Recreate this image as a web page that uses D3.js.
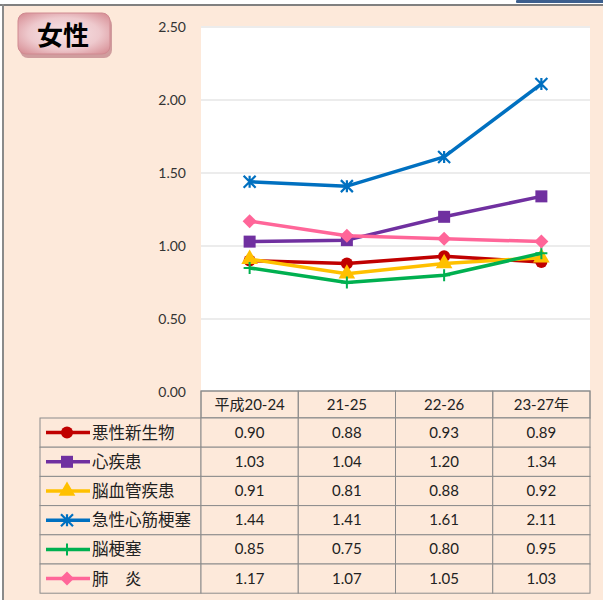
<!DOCTYPE html>
<html lang="ja">
<head>
<meta charset="UTF-8">
<title>女性</title>
<script src="https://d3js.org/d3.v7.min.js"></script>
<style>
    body { margin: 0; background: #fff; }
    svg text { font-family: Lato, "Noto Sans CJK JP", sans-serif; fill: #222; }
</style>
</head>
<body>
<div id="chart"></div>
<script>
    // data
    const categories = ["平成20-24", "21-25", "22-26", "23-27年"];
    const seriesNames = ["悪性新生物", "心疾患", "脳血管疾患", "急性心筋梗塞", "脳梗塞", "肺　炎"];
    const akusei = [0.90, 0.88, 0.93, 0.89];
    const shinshikkan = [1.03, 1.04, 1.20, 1.34];
    const noukekkan = [0.91, 0.81, 0.88, 0.92];
    const kyuusei = [1.44, 1.41, 1.61, 2.11];
    const noukousoku = [0.85, 0.75, 0.80, 0.95];
    const haien = [1.17, 1.07, 1.05, 1.03];
    const yTicks = [0, 0.5, 1.0, 1.5, 2.0, 2.5];

    const seriesValues = [akusei, shinshikkan, noukekkan, kyuusei, noukousoku, haien];
    const colors = ["#C00000", "#7030A0", "#FFC000", "#0070C0", "#00B050", "#FF6699"];
    const markers = ["circle", "square", "triangle", "star", "plus", "diamond"];

    const W = 603, H = 600;
    const svg = d3.select("#chart").append("svg")
        .attr("width", W).attr("height", H);

    // frame
    svg.append("rect").attr("x", 0).attr("y", 0).attr("width", W).attr("height", H).attr("fill", "#fff");
    svg.append("rect").attr("x", 2).attr("y", 5).attr("width", W).attr("height", H).attr("fill", "#FDE9DA");
    svg.append("rect").attr("x", 0).attr("y", 4).attr("width", W).attr("height", 2).attr("fill", "#808080");
    svg.append("rect").attr("x", 2).attr("y", 4).attr("width", 2).attr("height", H).attr("fill", "#8a8a8a");
    svg.append("rect").attr("x", 516).attr("y", 0).attr("width", 90).attr("height", 3).attr("rx", 1).attr("fill", "#3C5F8E");

    // title badge
    const defs = svg.append("defs");
    const grad = defs.append("radialGradient").attr("id", "badge")
        .attr("cx", "50%").attr("cy", "50%").attr("r", "70%");
    grad.append("stop").attr("offset", "0%").attr("stop-color", "#F8E6E8");
    grad.append("stop").attr("offset", "55%").attr("stop-color", "#EEC9CD");
    grad.append("stop").attr("offset", "100%").attr("stop-color", "#D4878E");
    svg.append("rect").attr("x", 20).attr("y", 17).attr("width", 92).attr("height", 41).attr("rx", 8)
        .attr("fill", "#C48A8F").attr("opacity", 0.8);
    svg.append("rect").attr("x", 18).attr("y", 13).attr("width", 92).attr("height", 41).attr("rx", 8)
        .attr("fill", "url(#badge)").attr("stroke", "#D08A91").attr("stroke-width", 1);
    svg.append("text").attr("x", 63).attr("y", 45).attr("text-anchor", "middle")
        .style("font-family", "'Noto Sans CJK JP'").style("font-weight", "bold")
        .style("font-size", "26px").style("fill", "#000").text("女性");

    // plot area
    const plotLeft = 201, plotRight = 590, plotTop = 27, plotBottom = 392;
    const x = d3.scaleBand().domain(categories).range([plotLeft, plotRight]);
    const y = d3.scaleLinear().domain([0, 2.5]).range([plotBottom, plotTop]);

    svg.append("rect").attr("x", plotLeft).attr("y", plotTop - 1)
        .attr("width", plotRight - plotLeft).attr("height", plotBottom - plotTop + 1)
        .attr("fill", "#fff");

    svg.append("g").selectAll("line").data(yTicks).join("line")
        .attr("x1", plotLeft).attr("x2", plotRight)
        .attr("y1", d => y(d)).attr("y2", d => y(d))
        .attr("stroke", "#D9D9D9").attr("stroke-width", 1);

    const yAxis = d3.axisLeft(y).tickValues(yTicks).tickFormat(d3.format(".2f")).tickSize(0).tickPadding(0);
    const yg = svg.append("g").attr("transform", `translate(${plotLeft - 15},0)`).call(yAxis);
    yg.select(".domain").remove();
    yg.selectAll("text").style("font-size", "14px").style("fill", "#333");

    // markers
    function drawMarker(g, type, color) {
        const s = 6;
        if (type === "circle") {
            g.append("circle").attr("r", s).attr("fill", color);
        } else if (type === "square") {
            g.append("rect").attr("x", -s).attr("y", -s).attr("width", 2 * s).attr("height", 2 * s).attr("fill", color);
        } else if (type === "triangle") {
            g.append("path").attr("d", d3.symbol(d3.symbolTriangle, 120)).attr("fill", color);
        } else if (type === "diamond") {
            g.append("path").attr("d", `M0,${-s - 1}L${s + 1},0L0,${s + 1}L${-s - 1},0Z`).attr("fill", color);
        } else if (type === "star") {
            g.append("path").attr("d", `M${-s},${-s}L${s},${s}M${-s},${s}L${s},${-s}M0,${-s}L0,${s}`)
                .attr("stroke", color).attr("stroke-width", 2.2).attr("fill", "none");
        } else if (type === "plus") {
            g.append("path").attr("d", `M${-s},0L${s},0M0,${-s}L0,${s}`)
                .attr("stroke", color).attr("stroke-width", 2).attr("fill", "none");
        }
    }

    const line = d3.line()
        .x((d, i) => x(categories[i]) + x.bandwidth() / 2)
        .y(d => y(d));

    seriesValues.forEach((vals, si) => {
        svg.append("path").datum(vals)
            .attr("d", line).attr("fill", "none")
            .attr("stroke", colors[si]).attr("stroke-width", 3.5)
            .attr("stroke-linejoin", "round");
        vals.forEach((v, i) => {
            const g = svg.append("g")
                .attr("transform", `translate(${x(categories[i]) + x.bandwidth() / 2},${y(v)})`);
            drawMarker(g, markers[si], colors[si]);
        });
    });

    // data table
    const tableLeft = 40, headerTop = 391, headerH = 27, rowH = 29.2;
    const border = "#8C8C8C";
    const tg = svg.append("g");

    tg.append("rect").attr("x", plotLeft).attr("y", headerTop).attr("width", plotRight - plotLeft).attr("height", headerH)
        .attr("fill", "#FDE9DA").attr("stroke", border);
    categories.forEach(c => {
        tg.append("rect").attr("x", x(c)).attr("y", headerTop).attr("width", x.bandwidth()).attr("height", headerH)
            .attr("fill", "none").attr("stroke", border);
        tg.append("text").attr("x", x(c) + x.bandwidth() / 2).attr("y", headerTop + headerH / 2 + 5)
            .attr("text-anchor", "middle").style("font-size", "15px").text(c);
    });

    seriesNames.forEach((name, si) => {
        const ry = headerTop + headerH + si * rowH;
        tg.append("rect").attr("x", tableLeft).attr("y", ry).attr("width", plotLeft - tableLeft).attr("height", rowH)
            .attr("fill", "#FDE9DA").attr("stroke", border);
        tg.append("line").attr("x1", 46).attr("x2", 90).attr("y1", ry + rowH / 2).attr("y2", ry + rowH / 2)
            .attr("stroke", colors[si]).attr("stroke-width", 3.5);
        const mg = tg.append("g").attr("transform", `translate(67,${ry + rowH / 2})`);
        drawMarker(mg, markers[si], colors[si]);
        tg.append("text").attr("x", 92).attr("y", ry + rowH / 2 + 6)
            .style("font-family", "'Noto Sans CJK JP'").style("font-size", "16.5px").text(name);
        seriesValues[si].forEach((v, i) => {
            tg.append("rect").attr("x", x(categories[i])).attr("y", ry).attr("width", x.bandwidth()).attr("height", rowH)
                .attr("fill", "#FDE9DA").attr("stroke", border);
            tg.append("text").attr("x", x(categories[i]) + x.bandwidth() / 2).attr("y", ry + rowH / 2 + 5)
                .attr("text-anchor", "middle").style("font-size", "15px").text(d3.format(".2f")(v));
        });
    });
</script>
</body>
</html>
